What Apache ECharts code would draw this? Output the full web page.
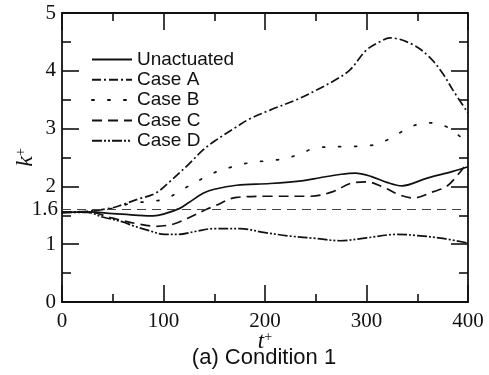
<!DOCTYPE html>
<html><head><meta charset="utf-8">
<script src="https://cdn.jsdelivr.net/npm/echarts@6/dist/echarts.min.js"></script>
<style>html,body{margin:0;padding:0;background:#fff}#c{width:489px;height:375px}</style>
</head><body><div id="c"></div>
<script>
// ---- data ----
const xTicks = [0, 100, 200, 300, 400];
const yTicks = [0, 1, 2, 3, 4, 5];
const refLevel = 1.6;
const seriesNames = ['Unactuated', 'Case A', 'Case B', 'Case C', 'Case D'];

const tUnact = [0, 25, 50, 75, 90, 100, 116, 125, 139, 150, 172, 205, 238, 254, 275, 289, 305, 320, 335, 359, 385, 400];
const kUnact = [1.55, 1.56, 1.53, 1.50, 1.49, 1.52, 1.62, 1.72, 1.88, 1.95, 2.02, 2.05, 2.10, 2.15, 2.21, 2.23, 2.17, 2.07, 2.01, 2.14, 2.26, 2.34];

const tA = [0, 25, 50, 59, 75, 92, 106, 124, 139, 150, 172, 185, 205, 231, 250, 270, 284, 300, 315, 323, 346, 363, 376, 385, 400];
const kA = [1.55, 1.57, 1.63, 1.68, 1.78, 1.88, 2.08, 2.37, 2.63, 2.78, 3.03, 3.17, 3.32, 3.50, 3.66, 3.85, 4.02, 4.36, 4.52, 4.57, 4.45, 4.22, 3.93, 3.67, 3.27];

const tB = [0, 25, 50, 69, 88, 103, 118, 149, 166, 182, 200, 216, 233, 249, 275, 300, 316, 330, 346, 365, 379, 394, 400];
const kB = [1.55, 1.57, 1.62, 1.71, 1.74, 1.79, 1.94, 2.23, 2.33, 2.40, 2.44, 2.47, 2.55, 2.66, 2.69, 2.70, 2.77, 2.90, 3.05, 3.10, 3.03, 2.84, 2.78];

const tC = [0, 25, 50, 75, 93, 110, 124, 143, 149, 172, 205, 245, 267, 284, 300, 316, 333, 346, 366, 379, 390, 400];
const kC = [1.55, 1.56, 1.45, 1.35, 1.31, 1.35, 1.45, 1.61, 1.65, 1.81, 1.83, 1.83, 1.91, 2.05, 2.08, 1.99, 1.85, 1.80, 1.91, 2.00, 2.20, 2.42];

const tD = [0, 25, 40, 59, 70, 85, 101, 115, 131, 150, 175, 200, 225, 250, 274, 300, 330, 350, 375, 400];
const kD = [1.55, 1.55, 1.47, 1.39, 1.32, 1.24, 1.17, 1.17, 1.22, 1.27, 1.27, 1.20, 1.14, 1.10, 1.06, 1.11, 1.17, 1.15, 1.10, 1.02];

// ---- chart ----
const tS = [tUnact, tA, tB, tC, tD];
const kS = [kUnact, kA, kB, kC, kD];
const dashes = ['solid', [9, 3, 2, 3], [2, 14], [10, 6], [10, 2, 2, 2, 2, 2]];
const ink = '#111';
const serif = '"Liberation Serif", "Times New Roman", serif';
const sans = '"Liberation Sans", Arial, sans-serif';

const xBase = {
  type: 'value', min: xTicks[0], max: xTicks[xTicks.length - 1], interval: 100,
  axisLine: { show: true, onZero: false, lineStyle: { color: ink, width: 1.8 } },
  axisTick: { show: true, inside: true, length: 17, lineStyle: { color: ink, width: 1.6 } },
  minorTick: { show: true, splitNumber: 2, length: 8, lineStyle: { color: ink, width: 1.6 } },
  splitLine: { show: false }, minorSplitLine: { show: false }
};
const yBase = {
  type: 'value', min: yTicks[0], max: yTicks[yTicks.length - 1], interval: 1,
  axisLine: { show: true, onZero: false, lineStyle: { color: ink, width: 1.8 } },
  axisTick: { show: true, inside: true, length: 17, lineStyle: { color: ink, width: 1.6 } },
  minorTick: { show: true, splitNumber: 2, length: 9, lineStyle: { color: ink, width: 1.6 } },
  splitLine: { show: false }, minorSplitLine: { show: false }
};

const series = seriesNames.map((n, i) => ({
  name: n, type: 'line', xAxisIndex: 0, yAxisIndex: 0,
  data: tS[i].map((t, j) => [t, kS[i][j]]),
  smooth: 0.35, showSymbol: false, symbol: 'none',
  lineStyle: { color: ink, width: 1.7, type: dashes[i], cap: i === 2 ? 'round' : 'butt' },
  itemStyle: { color: ink },
  z: 3
}));
series[0].markLine = {
  silent: true, symbol: 'none', animation: false,
  lineStyle: { color: '#444', width: 1, type: [9, 6] },
  label: { show: true, position: 'start', formatter: String(refLevel), color: ink, fontFamily: serif, fontSize: 21, distance: 4 },
  data: [{ yAxis: refLevel }]
};

const chart = echarts.init(document.getElementById('c'), null, { renderer: 'canvas' });
chart.setOption({
  animation: false,
  backgroundColor: '#fff',
  title: {
    text: '(a) Condition 1', left: 264, top: 347, textAlign: 'center', padding: 0,
    textStyle: { fontFamily: sans, fontSize: 22, fontWeight: 'normal', color: ink }
  },
  legend: {
    orient: 'vertical', left: 91, top: 50, padding: 0, itemWidth: 40, itemHeight: 10, itemGap: 1.3,
    itemStyle: { opacity: 0 },
    data: seriesNames,
    textStyle: { fontFamily: sans, fontSize: 19, color: ink, lineHeight: 19 }
  },
  grid: { left: 62, right: 21, top: 13, bottom: 73, containLabel: false },
  xAxis: [
    Object.assign({}, xBase, {
      position: 'bottom',
      axisLabel: { show: true, margin: 9, color: ink, fontFamily: serif, fontSize: 21 },
      name: '{i|t}{s|+}', nameLocation: 'middle', nameGap: 28, nameMoveOverlap: false,
      nameTextStyle: { rich: {
        i: { fontFamily: serif, fontStyle: 'italic', fontSize: 23, color: ink },
        s: { fontFamily: serif, fontSize: 14, color: ink, verticalAlign: 'top', padding: [0, 0, 10, 0] }
      } }
    }),
    Object.assign({}, xBase, { position: 'top', axisLabel: { show: false } })
  ],
  yAxis: [
    Object.assign({}, yBase, {
      position: 'left',
      axisLabel: { show: true, margin: 6, color: ink, fontFamily: serif, fontSize: 21 },
      name: '{i|k}{s|+}', nameLocation: 'middle', nameGap: 24, nameRotate: 90, nameMoveOverlap: false,
      nameTextStyle: { rich: {
        i: { fontFamily: serif, fontStyle: 'italic', fontSize: 24, color: ink },
        s: { fontFamily: serif, fontSize: 14, color: ink, verticalAlign: 'top', padding: [0, 0, 10, 0] }
      } }
    }),
    Object.assign({}, yBase, { position: 'right', axisLabel: { show: false } })
  ],
  series: series
});
</script>
</body></html>
